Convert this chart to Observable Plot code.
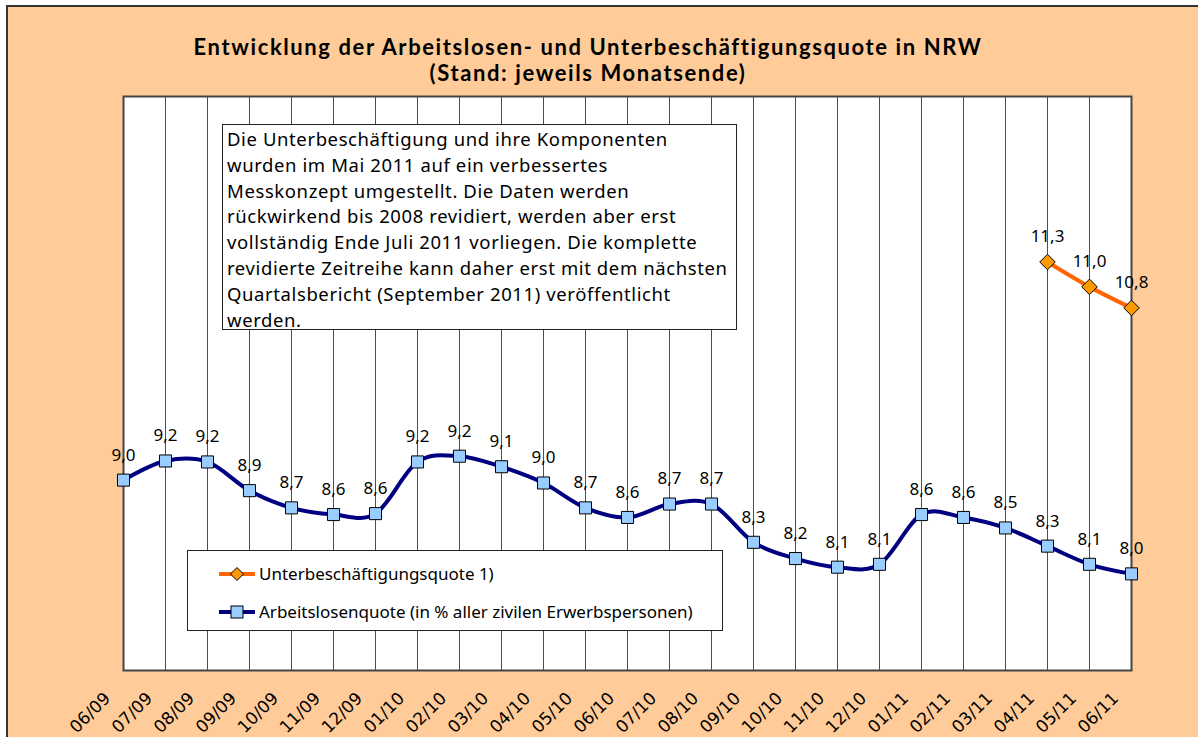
<!DOCTYPE html>
<html>
<head>
<meta charset="utf-8">
<script src="https://cdn.jsdelivr.net/npm/d3@7"></script>
<script src="https://cdn.jsdelivr.net/npm/@observablehq/plot@0.6"></script>
<style>
  html, body { margin: 0; padding: 0; background: #fff; }
  #wrap { position: relative; width: 1198px; height: 737px; overflow: hidden; }
  #panel { position: absolute; left: 6px; top: 5px; width: 1200px; height: 740px;
           background: #FFCC99; border-left: 2px solid #333; border-top: 2px solid #333; }
  .title { position: absolute; left: 0; width: 1176px; text-align: center; white-space: nowrap;
           font-family: "Lato", sans-serif; font-weight: 700; font-size: 22px; letter-spacing: 1.6px; line-height: 26px; color: #000; }
  #chart { position: absolute; left: 0; top: 0; }
  #note { position: absolute; left: 222px; top: 124px; width: 505px; height: 200px;
          background: #fff; border: 1px solid #222; padding: 1px 4px 3px 4px; white-space: nowrap;
          font-family: "Noto Sans", sans-serif; font-size: 18.5px; letter-spacing: 0.6px; line-height: 25.8px; color: #000; }
  #legend { position: absolute; left: 187px; top: 550px; width: 534px; height: 79px;
            background: #fff; border: 1px solid #222; font-family: "Noto Sans", sans-serif; font-size: 17px; color: #000; }
  .li { position: absolute; left: 30px; display: flex; align-items: center; }
  .li svg { display: block; margin-right: 3px; }
</style>
</head>
<body>
<div id="wrap">
  <div id="panel"></div>
  <div class="title" style="top:34px">Entwicklung der Arbeitslosen- und Unterbeschäftigungsquote in NRW</div>
  <div class="title" style="top:60px">(Stand: jeweils Monatsende)</div>
  <div id="chart"></div>
  <div id="note">Die Unterbeschäftigung und ihre Komponenten<br>wurden im Mai 2011 auf ein verbessertes<br>Messkonzept umgestellt. Die Daten werden<br>rückwirkend bis 2008 revidiert, werden aber erst<br>vollständig Ende Juli 2011 vorliegen. Die komplette<br>revidierte Zeitreihe kann daher erst mit dem nächsten<br>Quartalsbericht (September 2011) veröffentlicht<br>werden.</div>
  <div id="legend"></div>
</div>
<script>
// ---- data ----
const months = ["06/09","07/09","08/09","09/09","10/09","11/09","12/09","01/10","02/10","03/10","04/10","05/10","06/10","07/10","08/10","09/10","10/10","11/10","12/10","01/11","02/11","03/11","04/11","05/11","06/11"];
const arbeitslosenquote = [8.99, 9.19, 9.18, 8.88, 8.70, 8.63, 8.64, 9.18, 9.24, 9.13, 8.96, 8.70, 8.60, 8.74, 8.74, 8.34, 8.17, 8.08, 8.11, 8.63, 8.60, 8.49, 8.30, 8.11, 8.01];
const ubqMonths = ["04/11","05/11","06/11"];
const unterbeschaeftigungsquote = [11.27, 11.01, 10.79];
const seriesNames = ["Unterbeschäftigungsquote 1)", "Arbeitslosenquote (in % aller zivilen Erwerbspersonen)"];
const seriesColors = ["#FF6600", "#000080"];
const markerFills = ["#FF9900", "#99CCFF"];

const alq = months.map((m, i) => ({month: m, value: arbeitslosenquote[i]}));
const ubq = ubqMonths.map((m, i) => ({month: m, value: unterbeschaeftigungsquote[i]}));
const fmt = v => d3.format(".1f")(v).replace(".", ",");

const chart = Plot.plot({
  width: 1198,
  height: 737,
  marginLeft: 123,
  marginRight: 67,
  marginTop: 96,
  marginBottom: 67,
  style: {background: "transparent", fontFamily: "Noto Sans, sans-serif"},
  x: {type: "point", domain: months, padding: 0, label: null},
  y: {domain: [7, 13], axis: null},
  marks: [
    Plot.frame({fill: "white", stroke: "none"}),
    Plot.gridX({stroke: "#222", strokeOpacity: 0.8, strokeWidth: 1}),
    Plot.frame({stroke: "#444", strokeWidth: 2}),
    Plot.axisX({tickSize: 0, tickRotate: -45, tickPadding: 25, fontSize: 17, fontFamily: "DejaVu Sans, sans-serif", fill: "#000", label: null, dx: -16}),
    Plot.line(alq, {x: "month", y: "value", stroke: seriesColors[1], strokeWidth: 4, curve: "cardinal"}),
    Plot.dot(alq, {x: "month", y: "value", symbol: "square", r: 6.8, fill: markerFills[1], stroke: "#000", strokeWidth: 1, fillOpacity: 1}),
    Plot.line(ubq, {x: "month", y: "value", stroke: seriesColors[0], strokeWidth: 4, curve: "cardinal"}),
    Plot.dot(ubq, {x: "month", y: "value", symbol: "diamond2", r: 7, fill: markerFills[0], stroke: "#000", strokeWidth: 1, fillOpacity: 1}),
    Plot.text(alq, {x: "month", y: "value", text: d => fmt(d.value), dy: -25, fontSize: 17, fill: "#000"}),
    Plot.text(ubq, {x: "month", y: "value", text: d => fmt(d.value), dy: -25, fontSize: 17, fill: "#000"})
  ]
});
document.getElementById("chart").appendChild(chart);

// legend
const legend = document.getElementById("legend");
const tops = [11, 49];
[0, 1].forEach(i => {
  const item = document.createElement("div");
  item.className = "li";
  item.style.top = tops[i] + "px";
  const marker = i === 0
    ? `<path d="M19,0.5 L25.5,7 L19,13.5 L12.5,7 Z" fill="${markerFills[0]}" stroke="#000" stroke-width="1"/>`
    : `<rect x="13" y="1" width="12" height="12" fill="${markerFills[1]}" stroke="#000" stroke-width="1"/>`;
  item.innerHTML = `<svg width="38" height="14"><line x1="1" x2="37" y1="7" y2="7" stroke="${seriesColors[i]}" stroke-width="4"/>${marker}</svg><span>${seriesNames[i]}</span>`;
  legend.appendChild(item);
});
</script>
</body>
</html>
